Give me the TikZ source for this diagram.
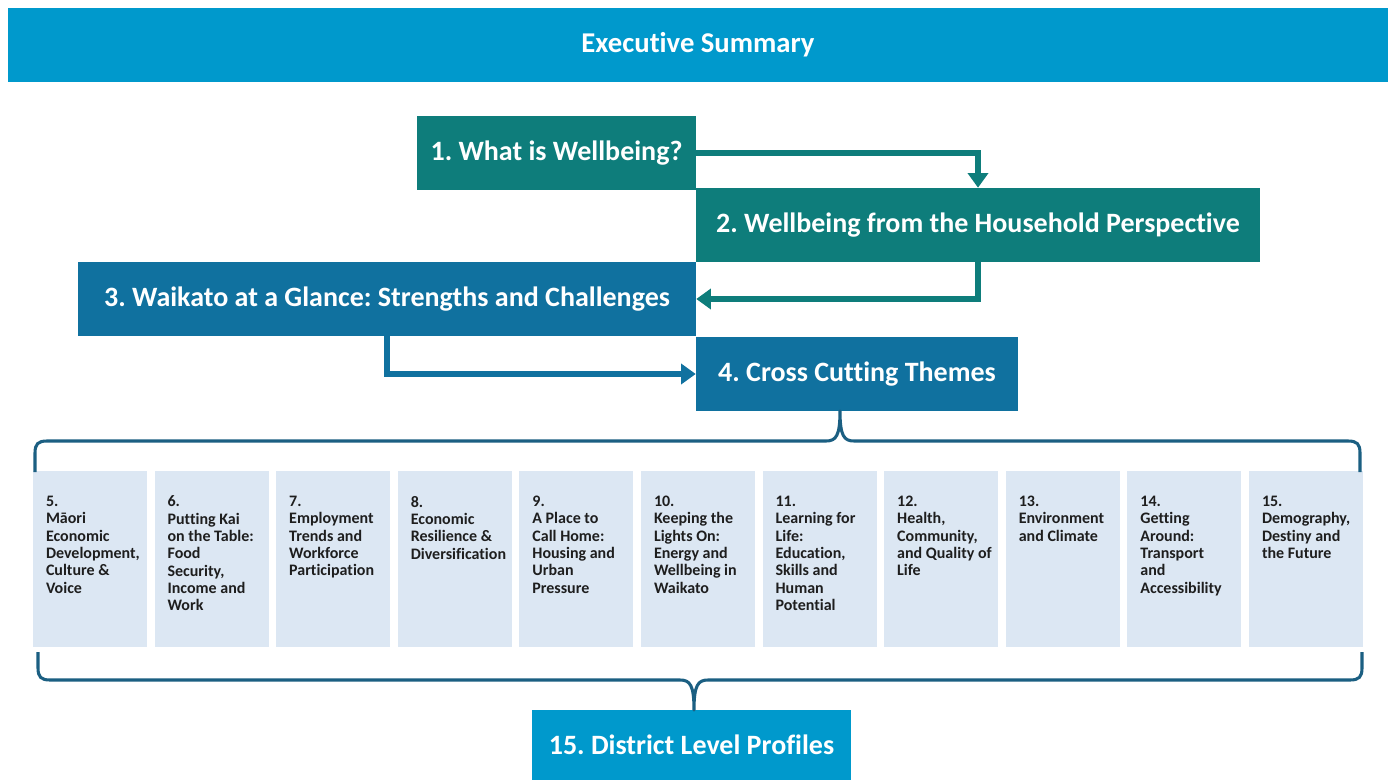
\documentclass[tikz,border=0pt]{standalone}
\usepackage{fontspec}
\setmainfont{Carlito}[Ligatures=NoCommon]
\usepackage{tikz}
\usetikzlibrary{calc,positioning,arrows.meta}
\frenchspacing
\definecolor{skyblue}{HTML}{0099CC}
\definecolor{tealbox}{HTML}{0E7D7B}
\definecolor{bluebox}{HTML}{10719F}
\definecolor{palebox}{HTML}{DCE7F3}
\definecolor{bracecol}{HTML}{1B5F82}
\definecolor{darktext}{HTML}{1E1E1E}
\tikzset{
bigbox/.style={inner sep=0pt, text=white, font=\fontsize{21}{24}\selectfont\bfseries, minimum height=55.5pt}, % the numbered chapter boxes
themebox/.style={fill=palebox, inner sep=0pt, minimum width=85.5pt, minimum height=132pt}, % the pale theme columns
themetext/.style={anchor=north west, inner sep=0pt, align=left, text=darktext, font=\fontsize{12}{13}\selectfont\bfseries},
flow/.style={line width=4pt, -{Triangle[length=11pt,width=15pt]}}, % elbow arrows
bracket/.style={draw=bracecol, line width=2.3pt, line join=round},
}

\begin{document}
\begin{tikzpicture}[x=0.75pt,y=0.75pt,yscale=-1,xscale=1]
\useasboundingbox[fill=white] (0,0) rectangle (1395,780);
%Header
\node[bigbox, fill=skyblue, minimum width=1035pt, font=\fontsize{21.5}{24}\selectfont\bfseries] (summary) at (698,45) {Executive Summary};
%Chapters
\node[bigbox, fill=tealbox, minimum width=209.25pt] (well) at (556.5,153) {1. What is Wellbeing?};
\node[bigbox, fill=tealbox, minimum width=423pt] (house) at (978,225) {2. Wellbeing from the Household Perspective};
\node[bigbox, fill=bluebox, minimum width=463.5pt] (glance) at (387,299) {3. Waikato at a Glance: Strengths and Challenges};
\node[bigbox, fill=bluebox, minimum width=241.5pt] (cross) at (857,374) {4. Cross Cutting Themes};
\node[bigbox, fill=skyblue, minimum width=239.25pt, minimum height=52.5pt] (district) at (691.5,745) {15. District Level Profiles};
%Arrows
\draw[flow, tealbox] (well.east) -| (house.north);
\draw[flow, tealbox] (house.south) |- (glance.east);
\draw[flow, bluebox] (glance.south) |- (cross.west);
%Themes
\foreach \num/\txt [count=\i from 0] in {
  5/{Māori\\Economic\\Development,\\Culture \&\\Voice},
  6/{Putting Kai\\on the Table:\\Food\\Security,\\Income and\\Work},
  7/{Employment\\Trends and\\Workforce\\Participation},
  8/{Economic\\Resilience \&\\Diversification},
  9/{A Place to\\Call Home:\\Housing and\\Urban\\Pressure},
  10/{Keeping the\\Lights On:\\Energy and\\Wellbeing in\\Waikato},
  11/{Learning for\\Life:\\Education,\\Skills and\\Human\\Potential},
  12/{Health,\\Community,\\and Quality of\\Life},
  13/{Environment\\and Climate},
  14/{Getting\\Around:\\Transport\\and\\Accessibility},
  15/{Demography,\\Destiny and\\the Future}}
{
  \node[themebox] (theme\num) at ({90+121.6*\i},559) {};
  \node[themetext] (label\num) at ($(theme\num.north west)+(13,25)$) {\num.\\\txt};
}
%Braces
\coordinate (toptip) at (840,411);
\coordinate (bottip) at (694,710);
\draw[bracket] (35,472) -- (35,453) .. controls (35,444) and (38,441) .. (47,441) -- (826,441) .. controls (836,441) and (840,436) .. (toptip) .. controls (840,436) and (844,441) .. (854,441) -- (1348,441) .. controls (1357,441) and (1360,444) .. (1360,453) -- (1360,472);
\draw[bracket] (38,652) -- (38,668) .. controls (38,677) and (41,680) .. (50,680) -- (680,680) .. controls (690,680) and (694,685) .. (bottip) .. controls (694,685) and (698,680) .. (708,680) -- (1350,680) .. controls (1359,680) and (1362,677) .. (1362,668) -- (1362,652);
\end{tikzpicture}
\end{document}
